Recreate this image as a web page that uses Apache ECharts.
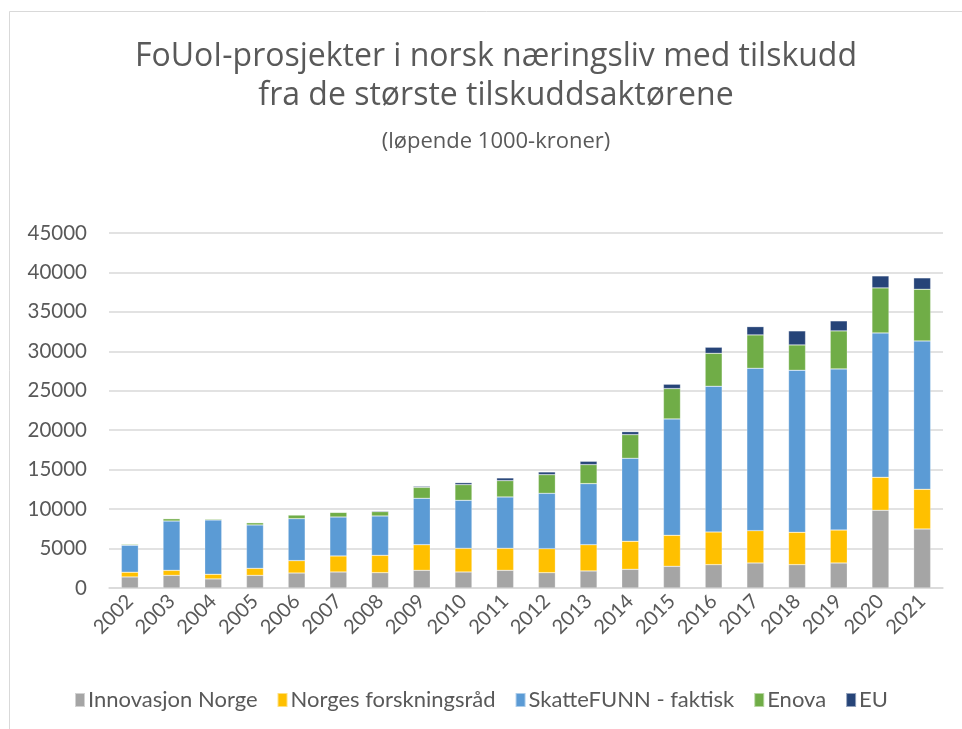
<!DOCTYPE html>
<html>
<head>
<meta charset="utf-8">
<script src="https://cdn.jsdelivr.net/npm/echarts@6/dist/echarts.min.js"></script>
<style>
  html, body { margin: 0; padding: 0; background: #fff; }
  #chart { width: 962px; height: 729px; }
</style>
</head>
<body>
<div id="chart"></div>
<script>
// Values in 1000 NOK
const years = ['2002', '2003', '2004', '2005', '2006', '2007', '2008', '2009', '2010', '2011',
  '2012', '2013', '2014', '2015', '2016', '2017', '2018', '2019', '2020', '2021'];

const innovasjonNorge = [1400, 1600, 1150, 1600, 1900, 2030, 1940, 2240, 2030, 2240,
  1940, 2160, 2370, 2750, 2960, 3170, 2960, 3170, 9850, 7480];
const forskningsraad = [600, 640, 590, 890, 1570, 2030, 2200, 3250, 3000, 2790,
  3050, 3330, 3550, 3930, 4140, 4100, 4100, 4180, 4180, 5030];
const skatteFunn = [3420, 6250, 6890, 5500, 5320, 4940, 4990, 5880, 6085, 6510,
  7010, 7740, 10520, 14750, 18470, 20580, 20540, 20420, 18300, 18810];
const enova = [130, 300, 130, 290, 470, 590, 550, 1390, 1990, 2070,
  2370, 2410, 3000, 3850, 4180, 4230, 3210, 4820, 5710, 6550];
const eu = [0, 0, 0, 0, 0, 0, 100, 130, 250, 340,
  340, 420, 380, 550, 770, 1050, 1780, 1270, 1520, 1440];

const yTicks = { min: 0, max: 45000, interval: 5000 };

const seriesDefs = [
  { name: 'Innovasjon Norge', data: innovasjonNorge, color: '#a5a5a5' },
  { name: 'Norges forskningsråd', data: forskningsraad, color: '#ffc000' },
  { name: 'SkatteFUNN - faktisk', data: skatteFunn, color: '#5b9bd5' },
  { name: 'Enova', data: enova, color: '#70ad47' },
  { name: 'EU', data: eu, color: '#264478' }
];

const textColor = '#595959';
const font = 'Lato, "Noto Sans", sans-serif';

const chart = echarts.init(document.getElementById('chart'));

chart.setOption({
  animation: false,
  backgroundColor: '#fff',
  graphic: [{
    type: 'rect',
    shape: { x: 9.5, y: 11.5, width: 1000, height: 800 },
    style: { fill: 'none', stroke: '#d9d9d9', lineWidth: 1 },
    silent: true
  }],
  title: [{
    text: 'FoUoI-prosjekter i norsk næringsliv med tilskudd\nfra de største tilskuddsaktørene',
    left: 491,
    textAlign: 'center',
    top: 32,
    textStyle: {
      fontFamily: '"Open Sans", sans-serif',
      fontWeight: 'normal',
      fontSize: 32,
      lineHeight: 39,
      color: textColor
    }
  }, {
    text: '(løpende 1000-kroner)',
    left: 491,
    textAlign: 'center',
    top: 126,
    textStyle: {
      fontFamily: '"Open Sans", sans-serif',
      fontWeight: 'normal',
      fontSize: 22,
      color: textColor
    }
  }],
  legend: {
    bottom: 13,
    left: 'center',
    itemWidth: 10,
    itemHeight: 14,
    itemGap: 19,
    icon: 'rect',
    textStyle: { fontFamily: font, fontSize: 22, color: textColor, padding: [0, 0, 0, -2] },
    data: seriesDefs.map(s => s.name)
  },
  grid: { left: 109, right: 19, top: 233, bottom: 141, containLabel: false },
  xAxis: {
    type: 'category',
    data: years,
    axisLine: { lineStyle: { color: '#d9d9d9', width: 1.5 } },
    axisTick: { show: false },
    axisLabel: {
      rotate: 45,
      margin: 10,
      fontFamily: font,
      fontSize: 20,
      color: textColor
    }
  },
  yAxis: {
    type: 'value',
    min: yTicks.min,
    max: yTicks.max,
    interval: yTicks.interval,
    axisLine: { show: false },
    axisTick: { show: false },
    splitLine: { lineStyle: { color: '#d9d9d9', width: 1.5 } },
    axisLabel: {
      margin: 22,
      fontFamily: font,
      fontSize: 20.5,
      color: textColor,
      formatter: v => String(v)
    }
  },
  series: seriesDefs.map(s => ({
    name: s.name,
    type: 'bar',
    stack: 'total',
    barWidth: 17,
    data: s.data,
    itemStyle: { color: s.color, borderColor: 'rgba(255,255,255,0.5)', borderWidth: 0.5 }
  }))
});
</script>
</body>
</html>
